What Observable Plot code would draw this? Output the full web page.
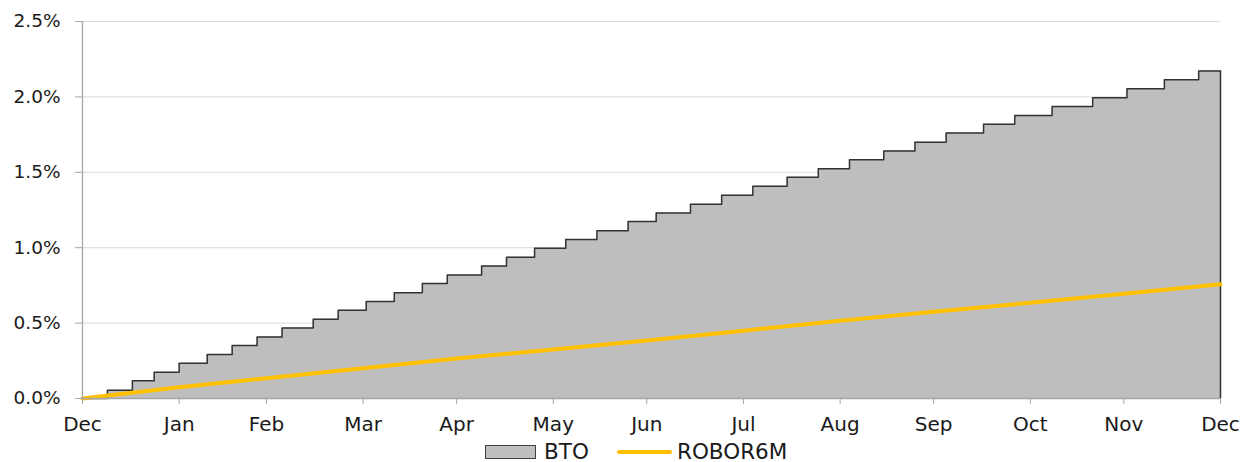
<!DOCTYPE html>
<html>
<head>
<meta charset="utf-8">
<script src="https://cdn.jsdelivr.net/npm/d3@7"></script>
<script src="https://cdn.jsdelivr.net/npm/@observablehq/plot@0.6"></script>
<style>
  html, body { margin: 0; padding: 0; background: #fff; }
  body { width: 1245px; height: 462px; position: relative; overflow: hidden;
         font-family: "DejaVu Sans", sans-serif; color: #1a1a1a; }
  .lg { position: absolute; }
  .lg-text { font-size: 21.5px; line-height: 26px; top: 439px; color: #1a1a1a; white-space: nowrap; }
  .sw-area { left: 485px; top: 445px; width: 49px; height: 12px; background: #bebebe; border: 1px solid #404040; }
  .sw-line { left: 617px; top: 450px; width: 55px; height: 4px; background: #ffc000; border-radius: 2px; }
</style>
</head>
<body>
<div id="chart"></div>
<div class="lg sw-area"></div>
<div class="lg lg-text" style="left:544px">BTO</div>
<div class="lg sw-line"></div>
<div class="lg lg-text" style="left:677px">ROBOR6M</div>
<script>
// BTO cumulative step series (% ), change dates
const btoDates = ["2023-01-01","2023-01-09","2023-01-17","2023-01-24","2023-02-01","2023-02-10","2023-02-18","2023-02-26",
  "2023-03-06","2023-03-16","2023-03-24","2023-04-02","2023-04-11","2023-04-20","2023-04-28","2023-05-09","2023-05-17",
  "2023-05-26","2023-06-05","2023-06-15","2023-06-25","2023-07-04","2023-07-15","2023-07-25","2023-08-04","2023-08-15",
  "2023-08-25","2023-09-04","2023-09-15","2023-09-25","2023-10-05","2023-10-17","2023-10-27","2023-11-08","2023-11-21",
  "2023-12-02","2023-12-14","2023-12-25","2024-01-01"];
const btoValues = [0, 0.055, 0.117, 0.174, 0.234, 0.292, 0.351, 0.408, 0.468, 0.526, 0.585, 0.643, 0.702, 0.762, 0.819,
  0.879, 0.936, 0.996, 1.054, 1.113, 1.173, 1.230, 1.288, 1.348, 1.407, 1.467, 1.524, 1.584, 1.641, 1.700, 1.760, 1.818,
  1.877, 1.937, 1.995, 2.054, 2.114, 2.171, 2.171];

// ROBOR6M series (%)
const roborDates = ["2023-01-01","2023-02-01","2023-03-01","2023-04-01","2023-05-01","2023-06-01","2023-07-01",
  "2023-08-01","2023-09-01","2023-10-01","2023-11-01","2023-12-01","2024-01-01"];
const roborValues = [0, 0.075, 0.135, 0.2, 0.265, 0.325, 0.385, 0.45, 0.515, 0.575, 0.635, 0.695, 0.757];

// axis ticks
const xTickDates = ["2023-01-01","2023-02-01","2023-03-01","2023-04-01","2023-05-01","2023-06-01","2023-07-01",
  "2023-08-01","2023-09-01","2023-10-01","2023-11-01","2023-12-01","2024-01-01"];
const xTickLabels = ["Dec","Jan","Feb","Mar","Apr","May","Jun","Jul","Aug","Sep","Oct","Nov","Dec"];
const yTicks = [0, 0.5, 1.0, 1.5, 2.0, 2.5];

const parse = d3.utcParse("%Y-%m-%d");
const bto = btoDates.map((d, i) => ({date: parse(d), value: btoValues[i]}));
const robor = roborDates.map((d, i) => ({date: parse(d), value: roborValues[i]}));
const xTicks = xTickDates.map(parse);
const labelOf = new Map(xTicks.map((d, i) => [+d, xTickLabels[i]]));
const last = bto[bto.length - 1];

const chart = Plot.plot({
  width: 1245,
  height: 440,
  marginLeft: 82,
  marginRight: 25,
  marginTop: 21,
  marginBottom: 42,
  style: {fontFamily: '"DejaVu Sans", sans-serif', color: "#1a1a1a", background: "#fff"},
  x: {type: "utc", domain: [xTicks[0], xTicks[xTicks.length - 1]], label: null},
  y: {domain: [0, 2.5], label: null},
  marks: [
    Plot.gridY(yTicks.filter(d => d > 0), {stroke: "#d9d9d9", strokeOpacity: 1, strokeWidth: 1}),
    Plot.areaY(bto, {x: "date", y: "value", curve: "step-after", fill: "#bebebe"}),
    Plot.lineY(bto, {x: "date", y: "value", curve: "step-after", stroke: "#333", strokeWidth: 1.5}),
    Plot.ruleX([last], {x: "date", y1: 0, y2: "value", stroke: "#333", strokeWidth: 1.5}),
    Plot.lineY(robor, {x: "date", y: "value", stroke: "#ffc000", strokeWidth: 4}),
    Plot.ruleY([0], {stroke: "#a6a6a6", strokeWidth: 1.3}),
    Plot.ruleX([xTicks[0]], {stroke: "#a6a6a6", strokeWidth: 1.3}),
    Plot.axisY({ticks: yTicks, tickFormat: d => d.toFixed(1) + "%", tickSize: 7, tickPadding: 15,
      stroke: "#a6a6a6", fontSize: 18.5, label: null}),
    Plot.axisX({ticks: xTicks, tickFormat: d => labelOf.get(+d), tickSize: 6, tickPadding: 12,
      stroke: "#a6a6a6", fontSize: 20, label: null})
  ]
});
document.getElementById("chart").appendChild(chart);
</script>
</body>
</html>
